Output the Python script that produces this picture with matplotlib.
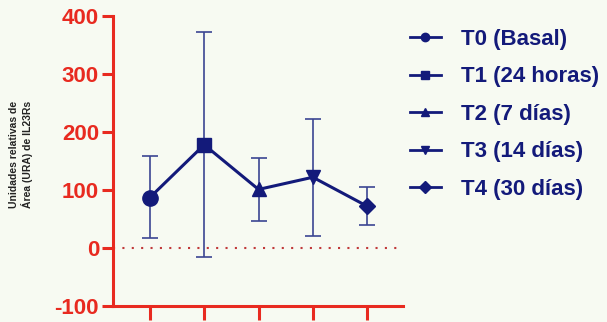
import matplotlib
matplotlib.use('Agg')
import matplotlib.pyplot as plt
from matplotlib.lines import Line2D

plt.rcParams['font.family'] = ['Liberation Sans', 'DejaVu Sans']
plt.rcParams['axes.unicode_minus'] = False

# data
labels = ['T0 (Basal)', 'T1 (24 horas)', 'T2 (7 días)', 'T3 (14 días)', 'T4 (30 días)']
means = [87, 178, 101, 122, 72]
err_low = [18, -15, 47, 20, 40]
err_high = [158, 372, 155, 222, 105]
markers = ['o', 's', '^', 'v', 'D']
yticks = [-100, 0, 100, 200, 300, 400]

navy = '#131a7a'
bar_col = '#3b4592'
red = '#e82a20'
bg = '#f7faf2'

fig = plt.figure(figsize=(6.07, 3.22), dpi=100, facecolor=bg)
ax = fig.add_axes([0.186, 0.0497, 0.478, 0.9006], facecolor=bg)

x = list(range(len(means)))
lo = [m - l for m, l in zip(means, err_low)]
hi = [h - m for m, h in zip(means, err_high)]
ax.errorbar(x, means, yerr=[lo, hi], fmt='none', ecolor=bar_col, elinewidth=1.2,
            capsize=6, capthick=1.2, zorder=2)
ax.plot(x, means, color=navy, lw=2.2, zorder=3)
sizes = [11, 10, 10, 10, 8]
for xi, m, mk, s in zip(x, means, markers, sizes):
    ax.plot(xi, m, marker=mk, color=navy, ms=s, zorder=4, lw=0)

ax.axhline(0, color='#c0393a', lw=1.5, ls=(0, (1, 3.5)), zorder=1)

ax.set_xlim(-0.68, 4.66)
ax.set_ylim(-100, 400)
ax.set_yticks(yticks)
ax.set_xticks(x)
ax.set_xticklabels([])
for side in ['top', 'right']:
    ax.spines[side].set_visible(False)
for side in ['left', 'bottom']:
    ax.spines[side].set_color(red)
    ax.spines[side].set_linewidth(2.2)
ax.tick_params(axis='y', colors=red, length=8, width=2.2, labelsize=16, pad=2)
ax.tick_params(axis='x', colors=red, length=10, width=2.2)
for t in ax.get_yticklabels():
    t.set_fontweight('bold')

fig.text(0.034, 0.52, 'Unidades relativas de\nÁrea (URA) de IL23Rs', rotation=90,
         ha='center', va='center', fontsize=7.5, fontweight='bold', color='#222222')

handles = [Line2D([0], [0], color=navy, lw=2, marker=mk, ms=6) for mk in markers]
leg = fig.legend(handles, labels, loc='upper left', bbox_to_anchor=(0.642, 0.972),
                 frameon=False, handlelength=1.4, handletextpad=0.9,
                 labelspacing=0.74, prop={'size': 16, 'weight': 'bold'})
for t in leg.get_texts():
    t.set_color(navy)

fig.savefig('out.png', dpi=100, facecolor=bg)
